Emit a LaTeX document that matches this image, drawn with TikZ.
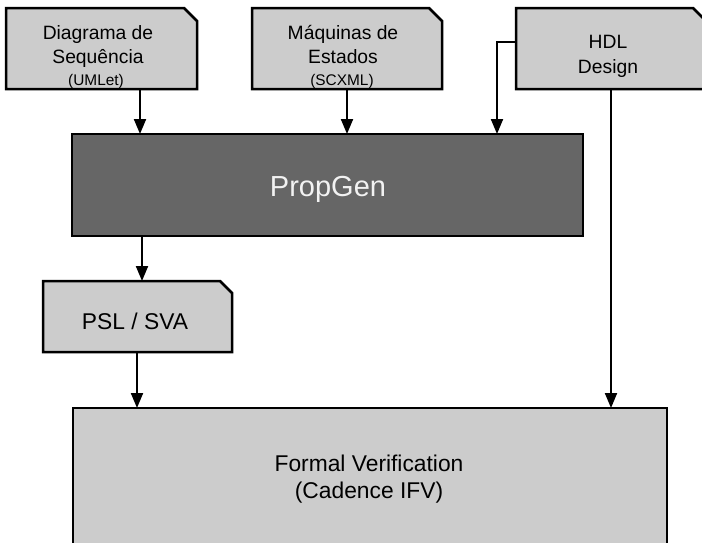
\documentclass[tikz,border=0pt]{standalone}
\usepackage{fontspec}
\setmainfont{Liberation Sans}
\usetikzlibrary{arrows.meta}

\definecolor{boxgray}{HTML}{CCCCCC}
\definecolor{toolgray}{HTML}{666666}
\definecolor{toolink}{HTML}{F2F2F2}

\tikzset{
  frame/.style={rectangle, draw=none, fill=none, inner sep=0pt, outer sep=0pt},
  outline/.style={draw=black, line width=2.5pt, fill=boxgray, line join=miter},
  tooloutline/.style={outline, fill=toolgray},
  txt/.style={anchor=base, inner sep=0pt, font=\fontsize{19.3}{23}\selectfont},
  smalltxt/.style={txt, font=\fontsize{15.4}{18}\selectfont},
  bigtxt/.style={txt, font=\fontsize{22.8}{27}\selectfont},
  tooltxt/.style={txt, text=toolink, font=\fontsize{29}{34}\selectfont},
  flow/.style={draw=black, line width=2pt, -{Triangle[length=15pt,width=12pt]}},
}

% document box with a clipped top-right corner
\newcommand\docshape[2]{%
  \path[outline] (#1.south west) -- (#1.north west)
    -- ([xshift=-#2]#1.north east) -- ([yshift=-#2]#1.north east)
    -- (#1.south east) -- cycle;}

\begin{document}
\begin{tikzpicture}[x=1pt, y=-1pt]
  \clip (0,0) rectangle (702,542);
  \fill[white] (0,0) rectangle (702,542);

  % inputs
  \node[frame, minimum width=191pt, minimum height=81pt] (diag) at (101.5,48.5) {};
  \node[frame, minimum width=190pt, minimum height=81pt] (maq)  at (347,48.5) {};
  \node[frame, minimum width=190pt, minimum height=81pt] (hdl)  at (611,48.5) {};
  \docshape{diag}{13pt}
  \docshape{maq}{13pt}
  \docshape{hdl}{13pt}

  \node[txt] (diag1) at (98,39) {Diagrama de};
  \node[txt] (diag2) at (98,63.5) {Sequência};
  \node[smalltxt] (diag3) at (96,85.5) {(UMLet)};

  \node[txt] (maq1) at (343,39) {Máquinas de};
  \node[txt] (maq2) at (343,63.5) {Estados};
  \node[smalltxt] (maq3) at (342,85.5) {(SCXML)};

  \node[txt] (hdl1) at (608,48.3) {HDL};
  \node[txt] (hdl2) at (608,73.3) {Design};

  % generator
  \node[frame, minimum width=511pt, minimum height=102pt] (prop) at (327.5,185) {};
  \path[tooloutline] (prop.south west) rectangle (prop.north east);
  \node[tooltxt] (propt) at (328,196.7) {PropGen};

  % generated properties
  \node[frame, minimum width=189pt, minimum height=71pt] (psl) at (137.5,316.5) {};
  \docshape{psl}{12pt}
  \node[bigtxt] (pslt) at (135,329) {PSL / SVA};

  % verification
  \node[frame, minimum width=594pt, minimum height=212pt] (fv) at (370,514) {};
  \path[outline] (fv.south west) rectangle (fv.north east);
  \node[bigtxt] (fv1) at (369,471.7) {Formal Verification};
  \node[bigtxt] (fv2) at (369,498) {(Cadence IFV)};

  % connectors
  \draw[flow] ([xshift=38.5pt]diag.south) -- ([xshift=38.5pt]diag.south |- prop.north);
  \draw[flow] (maq.south) -- (maq.south |- prop.north);
  \draw[flow] ([yshift=6.5pt]hdl.west) -| ([xshift=-86pt]prop.north east);
  \draw[flow] (hdl.south) -- (hdl.south |- fv.north);
  \draw[flow] ([xshift=4.5pt]psl.north |- prop.south) -- ([xshift=4.5pt]psl.north);
  \draw[flow] ([xshift=-0.5pt]psl.south) -- ([xshift=-0.5pt]psl.south |- fv.north);
\end{tikzpicture}
\end{document}
